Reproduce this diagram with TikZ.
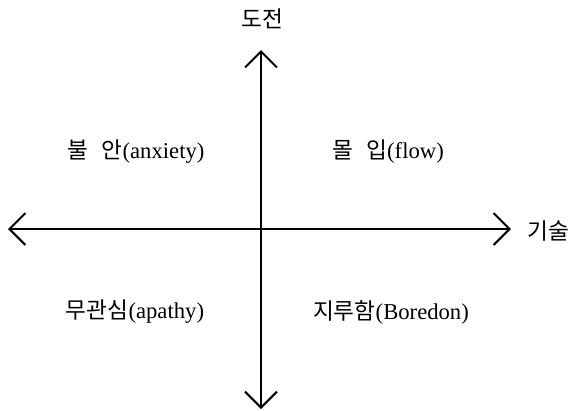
\documentclass[tikz,border=0pt]{standalone}
\usepackage{fontspec}
\setmainfont{Liberation Serif}
\newfontfamily\kor{Noto Sans CJK KR}
\usetikzlibrary{arrows.meta}
\begin{document}
\begin{tikzpicture}[x=0.75pt,y=-0.75pt,
  axis/.style={line width=1.5pt,{Straight Barb[length=12pt,width=24pt,line width=1.5pt]}-{Straight Barb[length=12pt,width=24pt,line width=1.5pt]}},
  lbl/.style={inner sep=0pt,font=\fontsize{17}{20}\selectfont}]
\useasboundingbox (0,0) rectangle (579,411);
\coordinate (top) at (261,50);
\coordinate (bot) at (261,409);
\coordinate (lft) at (8,229);
\coordinate (rgt) at (511,229);
\draw[axis] (bot) -- (top);
\draw[axis] (lft) -- (rgt);
\node[lbl] (chal) at (262,19) {\kor 도전};
\node[lbl] (skill) at (548,231) {\kor 기술};
\node[lbl] (anx) at (136,152) {{\kor 불\hspace{10pt}안}(anxiety)};
\node[lbl] (flow) at (388,152) {{\kor 몰\hspace{10pt}입}(flow)};
\node[lbl] (apa) at (135,312) {{\kor 무관심}(apathy)};
\node[lbl] (bor) at (391,312) {{\kor 지루함}(Boredon)};
\end{tikzpicture}
\end{document}
